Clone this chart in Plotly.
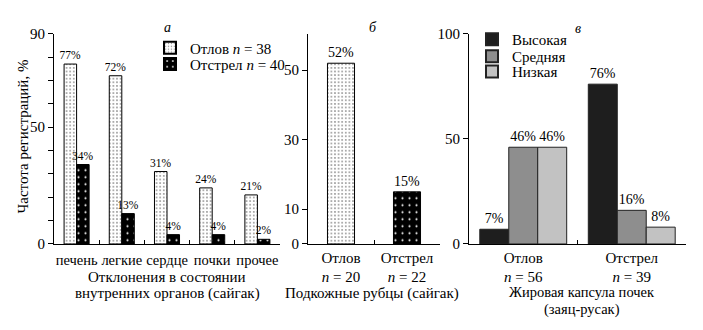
import plotly.graph_objects as go

# Panel а: internal organ abnormalities (saiga)
organs = ["печень", "легкие", "сердце", "почки", "прочее"]
otlov_a = [77, 72, 31, 24, 21]
otstrel_a = [34, 13, 4, 4, 2]

# Panel б: subcutaneous scars (saiga)
groups_b = ["Отлов<br><i>n</i> = 20", "Отстрел<br><i>n</i> = 22"]
otlov_b = [52]
otstrel_b = [15]

# Panel в: kidney fat capsule (hare)
groups_c = ["Отлов<br><i>n</i> = 56", "Отстрел<br><i>n</i> = 39"]
high_c = [7, 76]
mid_c = [46, 16]
low_c = [46, 8]

SERIF = "Liberation Serif"
W, H = 703, 330


def px_x(p):
    return p / W


def px_y(p):
    return 1 - p / H


light_pat = dict(shape=".", bgcolor="white", fgcolor="#8a8a8a", size=3.6, solidity=0.18, fillmode="replace")
dark_pat = dict(shape=".", bgcolor="black", fgcolor="white", size=7, solidity=0.07, fillmode="replace")


def legend_box(x, y):
    # one legend per entry so each row sits at its own height
    return dict(x=px_x(x), y=px_y(y), xanchor="left", yanchor="middle",
                bgcolor="rgba(0,0,0,0)", font=dict(family=SERIF, size=15, color="black"),
                itemsizing="constant")


fig = go.Figure()

# ---- panel а ----
wa = 0.277
fig.add_trace(go.Bar(
    x=organs, y=otlov_a, name="Отлов <i>n</i> = 38", xaxis="x", yaxis="y",
    width=wa, offset=-wa, legend="legend",
    marker=dict(color="white", pattern=light_pat, line=dict(color="black", width=1)),
    text=[f"{v}%" for v in otlov_a], textposition="outside", cliponaxis=False,
    constraintext="none", textfont=dict(family=SERIF, size=11.5, color="black"),
))
fig.add_trace(go.Bar(
    x=organs, y=otstrel_a, name="Отстрел <i>n</i> = 40", xaxis="x", yaxis="y",
    width=wa, offset=0, legend="legend2",
    marker=dict(color="black", pattern=dark_pat, line=dict(color="black", width=1)),
    text=[f"{v}%" for v in otstrel_a], textposition="outside", cliponaxis=False,
    constraintext="none", textfont=dict(family=SERIF, size=11.5, color="black"),
))

# ---- panel б ----
wb = 0.41
fig.add_trace(go.Bar(
    x=[groups_b[0]], y=otlov_b, xaxis="x2", yaxis="y2", showlegend=False,
    width=wb, offset=-wb / 2,
    marker=dict(color="white", pattern=light_pat, line=dict(color="black", width=1)),
    text=[f"{v}%" for v in otlov_b], textposition="outside", cliponaxis=False,
    constraintext="none", textfont=dict(family=SERIF, size=14, color="black"),
))
fig.add_trace(go.Bar(
    x=[groups_b[1]], y=otstrel_b, xaxis="x2", yaxis="y2", showlegend=False,
    width=wb, offset=-wb / 2,
    marker=dict(color="black", pattern=dark_pat, line=dict(color="black", width=1)),
    text=[f"{v}%" for v in otstrel_b], textposition="outside", cliponaxis=False,
    constraintext="none", textfont=dict(family=SERIF, size=14, color="black"),
))

# ---- panel в ----
wc = 0.267
for vals, name, col, off, leg in [
    (high_c, "Высокая", "#1e1e1e", -1.5 * wc, "legend3"),
    (mid_c, "Средняя", "#8e8e8e", -0.5 * wc, "legend4"),
    (low_c, "Низкая", "#c2c2c2", 0.5 * wc, "legend5"),
]:
    fig.add_trace(go.Bar(
        x=groups_c, y=vals, name=name, xaxis="x3", yaxis="y3", legend=leg,
        width=wc, offset=off,
        marker=dict(color=col, line=dict(color="#222222", width=1)),
        text=[f"{v}%" for v in vals], textposition="outside", cliponaxis=False,
        constraintext="none", textfont=dict(family=SERIF, size=14, color="black"),
    ))

ydom = [px_y(248), px_y(27)]
xaxis_common = dict(
    type="category", showline=True, linecolor="black", linewidth=1,
    ticks="inside", ticklen=4, tickcolor="black", tickson="boundaries", tickangle=0,
    ticklabelstandoff=0,
    tickfont=dict(family=SERIF, size=15, color="black"), showgrid=False,
    zeroline=False, fixedrange=True,
)
yaxis_common = dict(
    showline=True, linecolor="black", linewidth=1, ticks="outside", ticklen=5,
    tickcolor="black", tickfont=dict(family=SERIF, size=15, color="black"),
    showgrid=False, zeroline=False, domain=ydom, fixedrange=True,
)

fig.update_layout(
    width=W, height=H, margin=dict(l=0, r=0, t=0, b=0),
    paper_bgcolor="white", plot_bgcolor="white",
    barmode="overlay",
    font=dict(family=SERIF, size=15, color="black"),
    xaxis=dict(xaxis_common, domain=[px_x(54), px_x(280)], anchor="y", ticklabelstandoff=3,
               tickfont=dict(family=SERIF, size=14.5, color="black")),
    yaxis=dict(yaxis_common, anchor="x", range=[0, 90],
               tickvals=list(range(0, 91, 10)),
               ticktext=["0", "", "", "", "", "50", "", "", "", "90"]),
    xaxis2=dict(xaxis_common, domain=[px_x(308), px_x(440)], anchor="y2"),
    yaxis2=dict(yaxis_common, anchor="x2", range=[0, 60.5],
                tickvals=[0, 10, 30, 50], ticktext=["0", "10", "30", "50"]),
    xaxis3=dict(xaxis_common, domain=[px_x(469), px_x(686)], anchor="y3"),
    yaxis3=dict(yaxis_common, anchor="x3", range=[0, 100],
                tickvals=[0, 50, 100], ticktext=["0", "50", "100"]),
    legend=legend_box(150, 42),
    legend2=legend_box(150, 59),
    legend3=legend_box(472, 33),
    legend4=legend_box(472, 51),
    legend5=legend_box(472, 67),
    showlegend=True,
)

annotations = [
    # panel letters
    dict(x=px_x(167), y=px_y(21), text="<i>а</i>", font=dict(size=14)),
    dict(x=px_x(373), y=px_y(21), text="<i>б</i>", font=dict(size=14)),
    dict(x=px_x(578), y=px_y(22), text="<i>в</i>", font=dict(size=14)),
    # axis titles, one line per annotation
    dict(x=px_x(167), y=px_y(283), text="Отклонения в состоянии", font=dict(size=15)),
    dict(x=px_x(167), y=px_y(300), text="внутренних органов (сайгак)", font=dict(size=15)),
    dict(x=px_x(372), y=px_y(300), text="Подкожные рубцы (сайгак)", font=dict(size=15)),
    dict(x=px_x(582), y=px_y(298), text="Жировая капсула почек", font=dict(size=14.5)),
    dict(x=px_x(582), y=px_y(317), text="(заяц-русак)", font=dict(size=14.5)),
    dict(x=px_x(23), y=px_y(135), textangle=-90,
         text="Частота регистраций, %", font=dict(size=15)),
]
for a in annotations:
    a.setdefault("xanchor", "center")
    a.setdefault("yanchor", "middle")
    a.update(xref="paper", yref="paper", showarrow=False)
    a["font"] = dict(family=SERIF, color="black", **a["font"])
fig.update_layout(annotations=annotations)

fig.write_html("out.html")
